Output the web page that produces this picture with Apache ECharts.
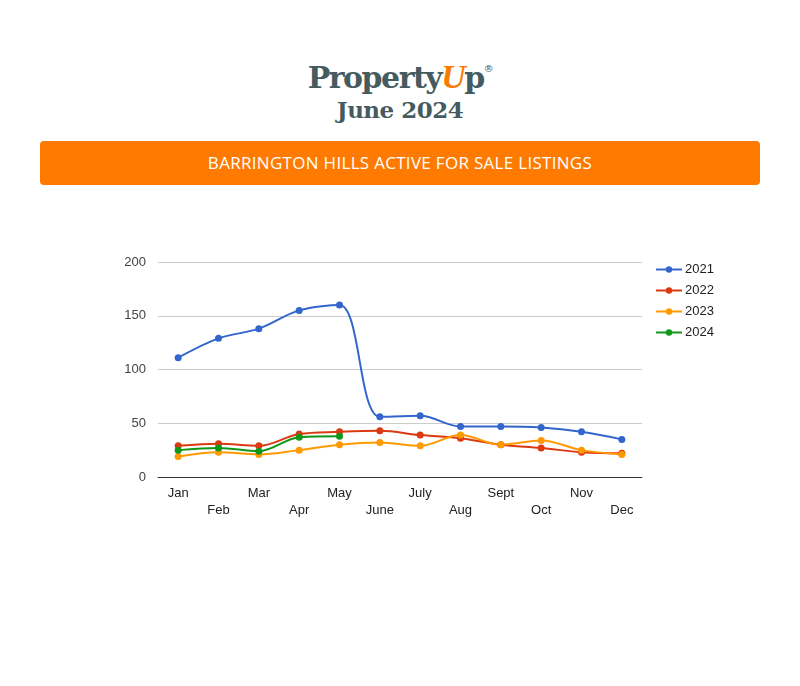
<!DOCTYPE html>
<html><head><meta charset="utf-8">
<script src="https://cdn.jsdelivr.net/npm/echarts@6/dist/echarts.min.js"></script>
<style>
body{margin:0;background:#fff;width:800px;height:686px;position:relative;font-family:Roboto,sans-serif}
#logo{position:absolute;top:50px;left:0;width:800px;text-align:center;color:#465b5f;font-family:"DejaVu Serif",serif;font-weight:bold}
#logo .a{font-size:30px;line-height:38px;letter-spacing:-1.5px}
#logo .u{color:#f57c00;font-style:italic;font-family:"Liberation Serif",serif;font-size:34px}
#logo sup{font-size:10px;font-weight:normal;vertical-align:16px}
#logo .b{font-size:23px;line-height:26px;letter-spacing:-0.5px}
#banner{position:absolute;left:40px;top:141px;width:720px;height:44px;background:#ff7a00;border-radius:4px;color:#fff;text-align:center;line-height:44px;font-size:17px;letter-spacing:0.3px;font-family:"Open Sans",sans-serif}
#main{position:absolute;left:0;top:200px;width:800px;height:360px}
</style></head><body>
<div id="logo"><div class="a">Property<span class="u">U</span>p<sup>®</sup></div><div class="b">June 2024</div></div>
<div id="banner">BARRINGTON HILLS ACTIVE FOR SALE LISTINGS</div>
<div id="main"></div>
<script>
var months = ['Jan','Feb','Mar','Apr','May','June','July','Aug','Sept','Oct','Nov','Dec'];
var y2021 = [111,129,138,155,160,56,57,47,47,46,42,35];
var y2022 = [29,31,29,40,42,43,39,36,30,27,23,22];
var y2023 = [19,23,21,25,30,32,29,39,30,34,25,21];
var y2024 = [25,27,24,37,38];
var colors = ['#3366cc','#dc3912','#ff9900','#109618'];

var chart = echarts.init(document.getElementById('main'));
var mk = function(name, data) {
    return {name: name, type: 'line', data: data, smooth: 0.35, symbol: 'circle', symbolSize: 7,
        lineStyle: {width: 2}};
};
chart.setOption({
    color: colors,
    animation: false,
    grid: {left: 158, right: 158, top: 62, bottom: 83},
    legend: {orient: 'vertical', left: 650, top: 58, itemWidth: 26, itemHeight: 8, itemGap: 8,
        textStyle: {color: '#222', fontSize: 13, fontFamily: 'Liberation Sans', padding: [0, 0, 0, -2]}},
    xAxis: {type: 'category', data: months,
        axisLine: {lineStyle: {color: '#333'}}, axisTick: {show: false},
        axisLabel: {interval: 0, color: '#222', fontSize: 13, fontFamily: 'Liberation Sans', margin: 8, lineHeight: 17,
            formatter: function(v, i) { return i % 2 ? '\n' + v : v; }}},
    yAxis: {type: 'value', min: 0, max: 200, interval: 50,
        axisLine: {show: false}, axisTick: {show: false},
        splitLine: {lineStyle: {color: '#ccc'}},
        axisLabel: {color: '#444', fontSize: 13, fontFamily: 'Liberation Sans', margin: 12}},
    series: [mk('2021', y2021), mk('2022', y2022), mk('2023', y2023), mk('2024', y2024)]
});
</script>
</body></html>
